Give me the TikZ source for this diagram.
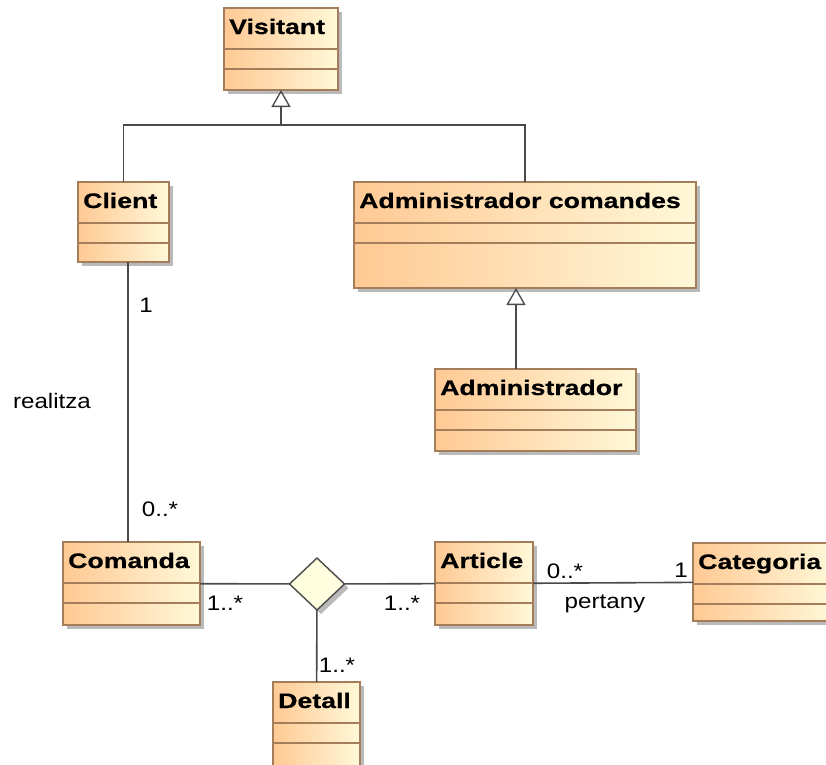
\documentclass[tikz,border=0pt]{standalone}
\usepackage{fontspec}
\setmainfont{Liberation Sans}
\newfontfamily\clsfont[FakeStretch=1.27,FakeBold=0.6]{Liberation Sans Bold}
\newfontfamily\lblfont[FakeStretch=1.15]{Liberation Sans}
\usepackage{tikz}
\usetikzlibrary{shapes.geometric,shadows,arrows.meta,positioning}
\usepackage{xcolor}
\definecolor{cbord}{HTML}{A47E5A}
\definecolor{cleft}{HTML}{FFC994}
\definecolor{cright}{HTML}{FFF8D8}
\definecolor{cline}{HTML}{4A4A4A}
\definecolor{cdia}{HTML}{FFFFE0}
\tikzstyle{cls}=[rectangle, draw=cbord, line width=1.3, left color=cleft, right color=cright, inner sep=0, outer sep=0, drop shadow={shadow xshift=4pt, shadow yshift=-4pt, fill=black!45, opacity=0.6}]
\tikzstyle{clsname}=[anchor=base west, inner sep=0, font=\clsfont\fontsize{21}{25}\selectfont]
\tikzstyle{div}=[draw=cbord, line width=1.3]
\tikzstyle{l1}=[draw=cline, line width=1.6]
\tikzstyle{gen}=[l1, -{Triangle[open, length=17pt, width=19pt, line width=1.3pt]}]
\tikzstyle{rel}=[diamond, draw=cline, line width=1.4, fill=cdia, minimum width=55, minimum height=52, inner sep=0, outer sep=0, drop shadow={shadow xshift=4pt, shadow yshift=-4pt, fill=black!45, opacity=0.6}]
\tikzstyle{lbl}=[inner sep=0, font=\lblfont\fontsize{21}{25}\selectfont]
% class box: name, left, top, right, bottom, title
\newcommand{\umlcls}[6]{%
  \node[cls, minimum width={#4-#2}, minimum height={#5-#3}] (#1) at ({(#2+#4)/2},{(#3+#5)/2}) {};
  \draw[div] ([yshift=-41pt]#1.north west) -- ([yshift=-41pt]#1.north east);
  \draw[div] ([yshift=-61pt]#1.north west) -- ([yshift=-61pt]#1.north east);
  \node[clsname] (#1-name) at ([xshift=5pt,yshift=-26pt]#1.north west) {#6};
}

\begin{document}
\begin{tikzpicture}[x=1pt,y=-1pt]
    \useasboundingbox[fill=white] (0,0) rectangle (826,764);
    \umlcls{vis}{224}{8}{338}{90}{Visitant}
    \umlcls{cli}{78}{182}{169}{262}{Client}
    \umlcls{adc}{354}{182}{696}{288}{Administrador comandes}
    \umlcls{adm}{435}{369}{636}{451}{Administrador}
    \umlcls{com}{63}{542}{200}{625}{Comanda}
    \umlcls{art}{435}{542}{533}{625}{Article}
    \umlcls{cat}{693}{543}{834}{621}{Categoria}
    \umlcls{det}{273}{682}{360}{770}{Detall}
    \node[rel] (dia) at (317,584) {};

    \coordinate (j1) at (281,125);
    \coordinate (g2) at ([xshift=-19.5pt]adm.north);
    \coordinate (r1) at ([xshift=4.5pt]cli.south);
    \draw[l1] (cli) |- (j1) -| (adc);
    \draw[gen] (j1) -- (vis);
    \draw[gen] (g2) -- (g2 |- adc.south);
    \draw[l1] (r1) -- (r1 |- com.north);
    \draw[l1] (com) -- (dia);
    \draw[l1] (dia) -- (art);
    \draw[l1] (dia) -- (det);
    \draw[l1] (art) -- (cat);

    \node[lbl] (m1) at (146,305) {1};
    \node[lbl] (asc1) at (52,401) {realitza};
    \node[lbl] (m2) at (160,509) {0..*};
    \node[lbl] (m3) at (225,603) {1..*};
    \node[lbl] (m4) at (402,603) {1..*};
    \node[lbl] (m5) at (337,665) {1..*};
    \node[lbl] (m6) at (565,571) {0..*};
    \node[lbl] (m7) at (681,570) {1};
    \node[lbl] (asc2) at (605,604) {pertany};
\end{tikzpicture}
\end{document}
